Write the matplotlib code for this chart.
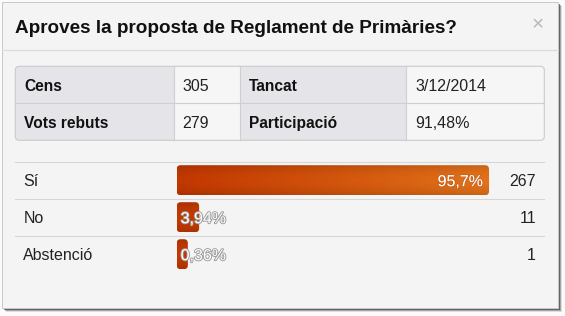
import numpy as np
import matplotlib
matplotlib.use("Agg")
import matplotlib.pyplot as plt
from matplotlib.patches import FancyBboxPatch, Rectangle
import matplotlib.transforms as mtransforms
import matplotlib.patheffects as pe

# ---------------- data ----------------
title = "Aproves la proposta de Reglament de Primàries?"
table_labels = [["Cens", "Tancat"], ["Vots rebuts", "Participació"]]
table_values = [["305", "3/12/2014"], ["279", "91,48%"]]
options = ["Sí", "No", "Abstenció"]
percentages = [95.7, 3.94, 0.36]
pct_labels = ["95,7%", "3,94%", "0,36%"]
votes = [267, 11, 1]

plt.rcParams['font.family'] = ['Liberation Sans', 'DejaVu Sans']

W, H = 565, 316
fig = plt.figure(figsize=(W / 100, H / 100), dpi=100)
fig.patch.set_facecolor('#fbfbfb')

# pixel-space layout axes
ax0 = fig.add_axes([0, 0, 1, 1])
ax0.set_xlim(0, W)
ax0.set_ylim(H, 0)
ax0.axis('off')

# panel shadow
for off, a in [(4.0, 0.15), (3.0, 0.35), (2.0, 0.6)]:
    ax0.add_patch(Rectangle((1.5 + off, 1.5 + off), 556.5, 306.5,
                            facecolor='#3a3a3a', alpha=a, edgecolor='none', zorder=0))
# panel
ax0.add_patch(Rectangle((1.5, 1.5), 556.5, 306.5, facecolor='#f4f4f4',
                        edgecolor='#c8c8c8', lw=0.7, zorder=1))
ax0.plot([1.5, 558], [50, 50], color='#dcdcdc', lw=0.9, zorder=2)

ax0.text(15, 33, title, fontsize=13.6, fontweight='bold', color='#111111',
         va='baseline', ha='left', zorder=3)
ax0.text(537.7, 25, '×', fontsize=15, color='#b8b8b8', ha='center',
         va='center', zorder=3)

# ---------------- info table ----------------
tx0, tx1, ty0, ty1 = 15.3, 544.3, 66.3, 140.3
col_edges = [15.3, 173.5, 240.3, 406.3, 544.3]
row_edges = [66.3, 103.3, 140.3]
outer = FancyBboxPatch((tx0, ty0), tx1 - tx0, ty1 - ty0,
                       boxstyle='round,pad=0,rounding_size=4',
                       facecolor='#f6f6f6', edgecolor='none', zorder=2)
ax0.add_patch(outer)
for c in (0, 2):
    r = Rectangle((col_edges[c], ty0), col_edges[c + 1] - col_edges[c], ty1 - ty0,
                  facecolor='#e4e4e9', edgecolor='none', zorder=2.1)
    ax0.add_patch(r)
    r.set_clip_path(outer)
for x in col_edges[1:-1]:
    ax0.plot([x, x], [ty0, ty1], color='#cfcfcf', lw=0.8, zorder=2.2)
ax0.plot([tx0, tx1], [row_edges[1], row_edges[1]], color='#cfcfcf', lw=0.8, zorder=2.2)
ax0.add_patch(FancyBboxPatch((tx0, ty0), tx1 - tx0, ty1 - ty0,
                             boxstyle='round,pad=0,rounding_size=4',
                             facecolor='none', edgecolor='#cbcbcb', lw=0.8, zorder=2.3))
label_x = [24, 249.3]
value_x = [182, 415]
baselines = [91, 128]
for ri in range(2):
    for ci in range(2):
        ax0.text(label_x[ci], baselines[ri], table_labels[ri][ci], fontsize=11.2,
                 fontweight='bold', color='#111111', va='baseline', zorder=3)
        ax0.text(value_x[ci], baselines[ri], table_values[ri][ci], fontsize=11.5,
                 color='#222222', va='baseline', zorder=3)

# ---------------- results bars ----------------
x0px, unit_x = 181.7, 3.159
ytop, row_h = 161.7, 37.0
n = len(options)
pad_px, core_h_px, round_px = 5.0, 20.0, 4.0
pad = pad_px / unit_x
asp = (pad_px / row_h) / pad
core_h = core_h_px / row_h

xmin, xmax = -pad, 100 + pad
axb = fig.add_axes([(x0px - pad_px) / W, 1 - (ytop + n * row_h) / H,
                    (100 * unit_x + 2 * pad_px) / W, n * row_h / H])
axb.axis('off')
axb.patch.set_alpha(0)

bars = axb.barh(range(n), percentages, height=core_h, alpha=0)

c0 = np.array([0xc2, 0x38, 0x00]) / 255
c1 = np.array([0xe4, 0x74, 0x1a]) / 255
for i, rect in enumerate(bars):
    x, y, w, h = rect.get_x(), rect.get_y(), rect.get_width(), rect.get_height()
    fb = FancyBboxPatch((x, y), w, h,
                        boxstyle=f'round,pad={pad},rounding_size={round_px / unit_x}',
                        mutation_aspect=asp, facecolor='none', edgecolor='none',
                        transform=axb.transData)
    axb.add_patch(fb)
    left, right = x - pad, x + w + pad
    top, bot = y - pad * asp, y + h + pad * asp
    nx, ny = 200, 40
    xs = np.linspace(left, right, nx)
    t = np.clip(xs / 100.0, 0, 1)
    horiz = c0[None, :] * (1 - t[:, None]) + c1[None, :] * t[:, None]
    v = np.linspace(0, 1, ny)
    shade = 0.88 + 0.12 * (1 - (2 * v - 1) ** 2)
    img = shade[:, None, None] * horiz[None, :, :]
    im = axb.imshow(img, extent=(left, right, bot, top), origin='upper',
                    aspect='auto', interpolation='bilinear', zorder=2)
    im.set_clip_path(fb)

    if percentages[i] > 20:
        axb.annotate(pct_labels[i], (x + w, i), xytext=(-0.72, -4.32),
                     textcoords='offset points', ha='right', va='baseline',
                     fontsize=11.5, color='white', zorder=4,
                     path_effects=[pe.withStroke(linewidth=0.8,
                                                 foreground=(0.55, 0.2, 0.0, 0.4))])
    else:
        axb.annotate(pct_labels[i], (x, i), xytext=(-0.72, -4.32),
                     textcoords='offset points', ha='left', va='baseline',
                     fontsize=11.5, color='white', zorder=4,
                     path_effects=[pe.withStroke(linewidth=1.3, foreground='#9a9a9a')])

axb.set_xlim(xmin, xmax)
axb.set_ylim(n - 0.5, -0.5)

blend = mtransforms.blended_transform_factory(ax0.transData, axb.transData)
text_tr = blend + mtransforms.ScaledTranslation(0, -6 / 100, fig.dpi_scale_trans)
for i in range(n):
    ax0.plot([15.3, 544.3], [i - 0.5, i - 0.5], color='#d6d6d6', lw=0.8,
             transform=blend, zorder=2)
    ax0.text(23.3, i, options[i], fontsize=11.5, color='#222222', ha='left',
             va='baseline', transform=text_tr, zorder=3)
    ax0.text(536, i, str(votes[i]), fontsize=11.5, color='#222222', ha='right',
             va='baseline', transform=text_tr, zorder=3)

fig.savefig('out.png', dpi=100)
